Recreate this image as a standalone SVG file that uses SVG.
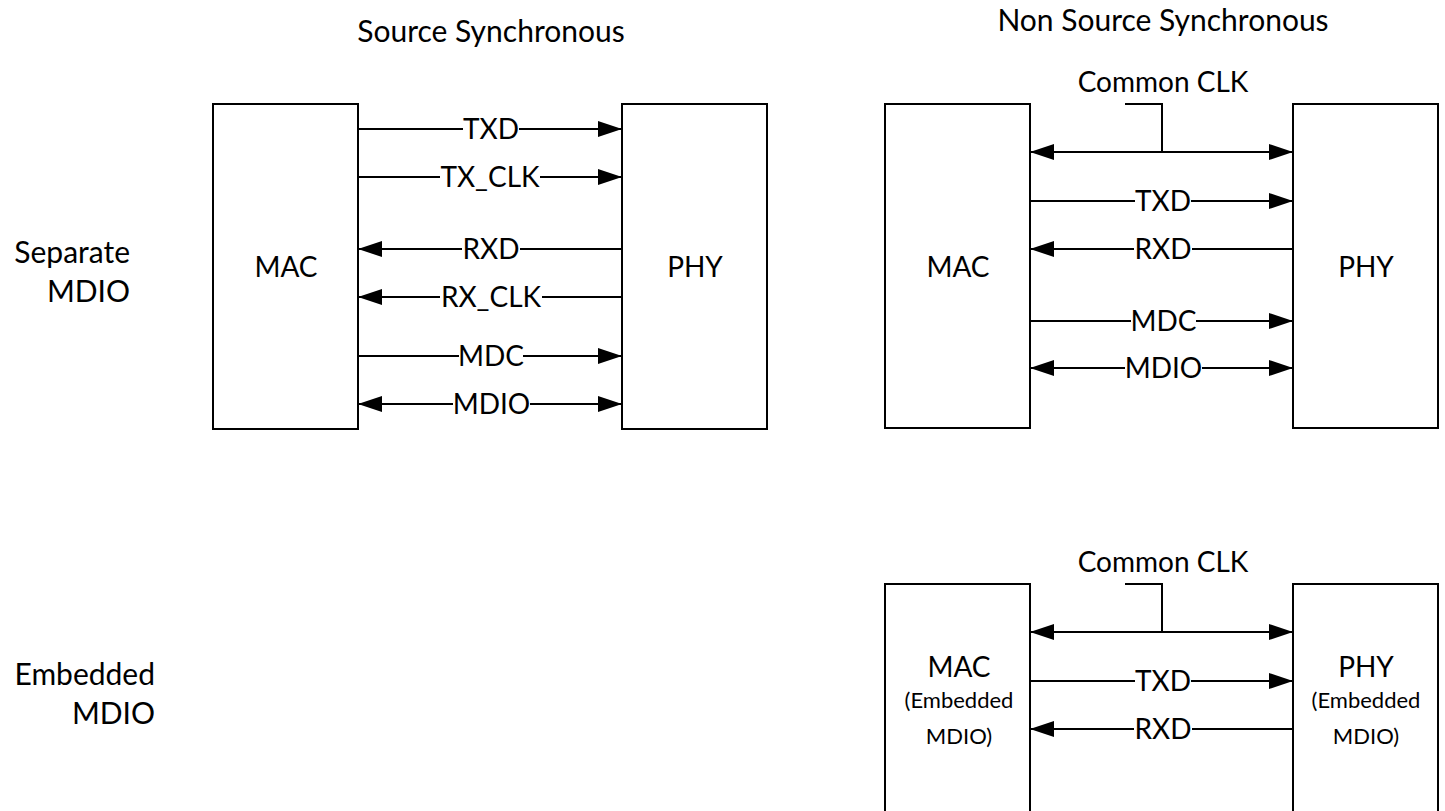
<svg xmlns="http://www.w3.org/2000/svg" width="1445" height="811" viewBox="0 0 1445 811">
<style>
text{font-family:Lato,"Open Sans","Liberation Sans",sans-serif;fill:#000;}
.t{font-size:30px;}
.c{font-size:28px;text-anchor:middle;}
.nm{font-size:28px;text-anchor:middle;}
.lb{font-size:28px;text-anchor:middle;}
.sm{font-size:22px;text-anchor:middle;}
.box{fill:#fff;stroke:#000;stroke-width:2;}
.ln{stroke:#000;stroke-width:2;fill:none;}
</style>
<defs>
<marker id="ah" viewBox="0 0 24 16" refX="24" refY="8" markerWidth="24" markerHeight="16" markerUnits="userSpaceOnUse" orient="auto-start-reverse">
<path d="M0,0 L24,8 L0,16 z" fill="#000"/>
</marker>
</defs>
<rect width="1445" height="811" fill="#fff"/>

<g id="titles">
<text class="t" x="491" y="42" text-anchor="middle">Source Synchronous</text>
<text class="t" x="1163" y="31" text-anchor="middle">Non Source Synchronous</text>
<text class="t" x="130" y="263" text-anchor="end">Separate</text>
<text class="t" x="130" y="302" text-anchor="end">MDIO</text>
<text class="t" x="155" y="685" text-anchor="end">Embedded</text>
<text class="t" x="155" y="724" text-anchor="end">MDIO</text>
</g>

<g id="mac1"><rect class="box" x="213" y="104" width="145" height="325"/><text class="nm" x="286" y="277">MAC</text></g>
<g id="phy1"><rect class="box" x="622" y="104" width="145" height="325"/><text class="nm" x="695" y="277">PHY</text></g>
<g id="mac2"><rect class="box" x="885" y="104" width="145" height="324"/><text class="nm" x="958" y="277">MAC</text></g>
<g id="phy2"><rect class="box" x="1293" y="104" width="145" height="324"/><text class="nm" x="1366" y="277">PHY</text></g>
<g id="mac3"><rect class="box" x="885" y="584" width="145" height="240"/><text class="nm" x="959" y="677">MAC</text><text class="sm" x="959" y="708">(Embedded</text><text class="sm" x="959" y="744">MDIO)</text></g>
<g id="phy3"><rect class="box" x="1293" y="584" width="145" height="240"/><text class="nm" x="1366" y="677">PHY</text><text class="sm" x="1366" y="708">(Embedded</text><text class="sm" x="1366" y="744">MDIO)</text></g>

<g id="connectors">
<!-- TXD -->
<line class="ln" x1="358" y1="129" x2="463" y2="129"/>
<line class="ln" x1="519" y1="129" x2="622" y2="129" marker-end="url(#ah)"/>
<!-- TX_CLK -->
<line class="ln" x1="358" y1="177" x2="440" y2="177"/>
<line class="ln" x1="540" y1="177" x2="622" y2="177" marker-end="url(#ah)"/>
<!-- RXD -->
<line class="ln" x1="622" y1="249" x2="520" y2="249"/>
<line class="ln" x1="462" y1="249" x2="358" y2="249" marker-end="url(#ah)"/>
<!-- RX_CLK -->
<line class="ln" x1="622" y1="297" x2="542" y2="297"/>
<line class="ln" x1="440" y1="297" x2="358" y2="297" marker-end="url(#ah)"/>
<!-- MDC -->
<line class="ln" x1="358" y1="356" x2="459" y2="356"/>
<line class="ln" x1="523" y1="356" x2="622" y2="356" marker-end="url(#ah)"/>
<!-- MDIO -->
<line class="ln" x1="453" y1="404" x2="358" y2="404" marker-end="url(#ah)"/>
<line class="ln" x1="530" y1="404" x2="622" y2="404" marker-end="url(#ah)"/>

<!-- Common CLK top -->
<path class="ln" d="M1125,104 H1162 V152"/>
<line class="ln" x1="1030" y1="152" x2="1293" y2="152" marker-start="url(#ah)" marker-end="url(#ah)"/>
<!-- TXD -->
<line class="ln" x1="1030" y1="201" x2="1135" y2="201"/>
<line class="ln" x1="1191" y1="201" x2="1293" y2="201" marker-end="url(#ah)"/>
<!-- RXD -->
<line class="ln" x1="1293" y1="249" x2="1192" y2="249"/>
<line class="ln" x1="1134" y1="249" x2="1030" y2="249" marker-end="url(#ah)"/>
<!-- MDC -->
<line class="ln" x1="1030" y1="321" x2="1131" y2="321"/>
<line class="ln" x1="1196" y1="321" x2="1293" y2="321" marker-end="url(#ah)"/>
<!-- MDIO -->
<line class="ln" x1="1125" y1="368" x2="1030" y2="368" marker-end="url(#ah)"/>
<line class="ln" x1="1202" y1="368" x2="1293" y2="368" marker-end="url(#ah)"/>

<!-- Common CLK bottom -->
<path class="ln" d="M1125,584 H1162 V632"/>
<line class="ln" x1="1030" y1="632" x2="1293" y2="632" marker-start="url(#ah)" marker-end="url(#ah)"/>
<line class="ln" x1="1030" y1="681" x2="1135" y2="681"/>
<line class="ln" x1="1191" y1="681" x2="1293" y2="681" marker-end="url(#ah)"/>
<line class="ln" x1="1293" y1="729" x2="1192" y2="729"/>
<line class="ln" x1="1134" y1="729" x2="1030" y2="729" marker-end="url(#ah)"/>
</g>

<g id="labels">
<text class="lb" x="491" y="139">TXD</text>
<text class="lb" x="490" y="187">TX_CLK</text>
<text class="lb" x="491" y="259">RXD</text>
<text class="lb" x="491" y="307">RX_CLK</text>
<text class="lb" x="491" y="366">MDC</text>
<text class="lb" x="491.5" y="414">MDIO</text>

<text class="c" x="1163" y="92">Common CLK</text>
<text class="lb" x="1163" y="211">TXD</text>
<text class="lb" x="1163" y="259">RXD</text>
<text class="lb" x="1163.5" y="331">MDC</text>
<text class="lb" x="1163.5" y="378">MDIO</text>

<text class="c" x="1163" y="572">Common CLK</text>
<text class="lb" x="1163" y="691">TXD</text>
<text class="lb" x="1163" y="739">RXD</text>
</g>
</svg>
